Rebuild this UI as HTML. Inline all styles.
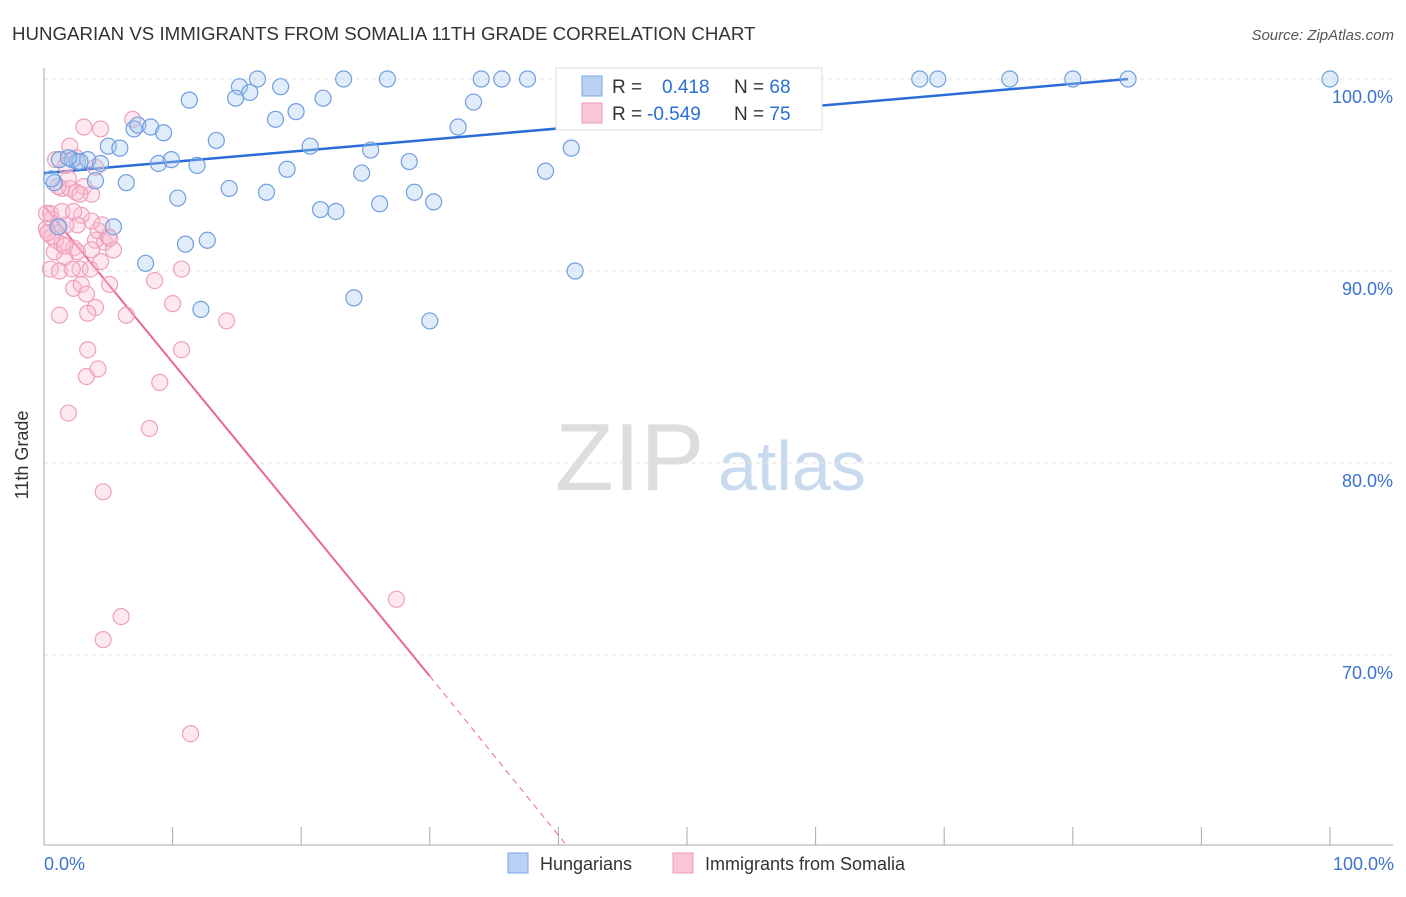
<!DOCTYPE html>
<html><head><meta charset="utf-8"><style>
body{margin:0;background:#fff;font-family:"Liberation Sans",sans-serif}
svg text{font-family:"Liberation Sans",sans-serif}
</style></head><body>
<svg width="1406" height="892">
<text x="12" y="40" font-size="18.7" fill="#333">HUNGARIAN VS IMMIGRANTS FROM SOMALIA 11TH GRADE CORRELATION CHART</text>
<text x="1394" y="40" font-size="15" fill="#555" text-anchor="end" font-style="italic">Source: ZipAtlas.com</text>
<text x="555" y="490" font-size="96" fill="#ddd" font-family="Liberation Serif">ZIP</text>
<text x="718" y="490" font-size="70" fill="#c9d9ee">atlas</text>
<g id="grid"></g><g id="axes"></g>
<line id="bl" stroke="#2a6dd9" stroke-width="2.5"/>
<line id="pl" stroke="#e8679a" stroke-width="2"/>
<line id="pld" stroke="#e8679a" stroke-width="1" stroke-dasharray="6,5"/>
<g id="pts"></g>
<text x="28" y="455" font-size="18" fill="#333" transform="rotate(-90 28 455)" text-anchor="middle">11th Grade</text>
<text x="44" y="870" font-size="18" fill="#3b73d0">0.0%</text>
<text x="1394" y="870" font-size="18" fill="#3b73d0" text-anchor="end">100.0%</text>
<g>
<rect x="556" y="68" width="266" height="62" fill="#fff" stroke="#ddd"/>
<rect x="582" y="76" width="20" height="20" fill="#b9d2f3" stroke="#7aa6e6"/>
<rect x="582" y="103" width="20" height="20" fill="#f8c6d6" stroke="#eb9ab6"/>
<text x="612" y="93" font-size="19" fill="#333">R = <tspan fill="#2a6dd9" x="662">0.418</tspan><tspan x="734" fill="#333">N = </tspan><tspan fill="#2a6dd9">68</tspan></text>
<text x="612" y="120" font-size="19" fill="#333">R = <tspan fill="#2a6dd9" x="647">-0.549</tspan><tspan x="734" fill="#333">N = </tspan><tspan fill="#2a6dd9">75</tspan></text>
</g>
<g>
<rect x="508" y="853" width="20" height="20" fill="#b9d2f3" stroke="#7aa6e6"/>
<text x="540" y="870" font-size="18" fill="#333">Hungarians</text>
<rect x="673" y="853" width="20" height="20" fill="#f8c6d6" stroke="#eb9ab6"/>
<text x="705" y="870" font-size="18" fill="#333">Immigrants from Somalia</text>
</g>
</svg>
<script>
const yTicks=[100,90,80,70];
const yTickLabels=["100.0%","90.0%","80.0%","70.0%"];
const xTicks=[0,10,20,30,40,50,60,70,80,90,100];
const blueX=[15.2,16.6,18.4,23.3,26.7,34,35.6,37.6,54,68.1,69.5,75.1,80,84.3,100,11.3,14.9,16,21.7,33.4,19.6,18,7,7.3,8.3,9.3,13.4,5,5.9,20.7,25.4,32.2,41,1.2,2.2,2.6,3.4,4.4,8.9,9.9,11.9,18.9,28.4,24.7,39,0.8,4,6.4,14.4,17.3,10.4,28.8,30.3,26.1,21.5,22.7,5.4,1.1,11.0,12.7,7.9,41.3,24.1,12.2,30,2.8,0.6,1.9];
const blueY=[99.6,100,99.6,100,100,100,100,100,100,100,100,100,100,100,100,98.9,99,99.3,99,98.8,98.3,97.9,97.4,97.6,97.5,97.2,96.8,96.5,96.4,96.5,96.3,97.5,96.4,95.8,95.8,95.7,95.8,95.6,95.6,95.8,95.5,95.3,95.7,95.1,95.2,94.6,94.7,94.6,94.3,94.1,93.8,94.1,93.6,93.5,93.2,93.1,92.3,92.3,91.4,91.6,90.4,90,88.6,88,87.4,95.7,94.8,95.9];
const pinkX=[6.9,4.4,3.1,2,0.9,2.5,1.7,4,1.4,2,3.1,3.7,2.5,0.5,0.6,1.2,0.3,0.9,1.4,2.3,2.6,1.6,0.5,1.2,2.8,3.6,2.3,2.9,5.1,4,3.4,1.2,6.4,4.7,5.4,4,4.2,5,3.7,2.9,2.6,1.7,3.4,3.3,4.2,9,10,10.7,8.6,10.7,14.2,8.2,1.9,4.6,6,4.6,11.4,27.4,0.2,0.6,0.8,1.6,0.2,2.2,4.4,3.3,3.7,1.1,1.9,2.8,4.5,0.3,1.4,2.3,5.1];
const pinkY=[97.9,97.4,97.5,96.5,95.8,95.9,95.5,95.4,94.3,94.3,94.4,94,94.1,93,92.7,92.3,92,91.6,91.4,91.2,91,90.7,90.1,90,90.1,90.1,89.1,89.3,89.3,88.1,87.8,87.7,87.7,91.5,91.1,91.6,92.1,91.8,92.6,92.9,92.4,92.4,85.9,84.5,84.9,84.2,88.3,90.1,89.5,85.9,87.4,81.8,82.6,78.5,72,70.8,65.9,72.9,92.2,91.8,91,91.3,93,90.1,90.5,88.8,91.1,94.4,94.8,94,92.4,92,93.1,93.1,91.7];
const blueTrend=[0,95.1,84.3,100];
const pinkTrend=[0,93.4,30,68.9,40.5,60.2];
function X(v){return 44+v*12.86}
function Y(v){return 79+(100-v)*19.2}
const NS="http://www.w3.org/2000/svg";
const grid=document.getElementById('grid'),axes=document.getElementById('axes'),pts=document.getElementById('pts');
yTicks.forEach((t,i)=>{
 const l=document.createElementNS(NS,'line');
 
 
 l.setAttribute('x1',44);l.setAttribute('x2',1393);l.setAttribute('y1',Y(t));l.setAttribute('y2',Y(t));
 l.setAttribute('stroke','#e2e2e2');l.setAttribute('stroke-dasharray','4,4');grid.appendChild(l);
 const tx=document.createElementNS(NS,'text');
 
 
 tx.setAttribute('x',1393);tx.setAttribute('y',Y(t)+24);tx.setAttribute('text-anchor','end');
 tx.setAttribute('font-size','18');tx.setAttribute('fill','#3b73d0');tx.textContent=yTickLabels[i];axes.appendChild(tx);
});
const ax=document.createElementNS(NS,'line');


ax.setAttribute('x1',44);ax.setAttribute('x2',1393);ax.setAttribute('y1',845);ax.setAttribute('y2',845);ax.setAttribute('stroke','#aaa');axes.appendChild(ax);
const ay=document.createElementNS(NS,'line');


ay.setAttribute('x1',44);ay.setAttribute('x2',44);ay.setAttribute('y1',68);ay.setAttribute('y2',845);ay.setAttribute('stroke','#aaa');axes.appendChild(ay);
xTicks.forEach(t=>{
 const l=document.createElementNS(NS,'line');
 
 
 l.setAttribute('x1',X(t));l.setAttribute('x2',X(t));l.setAttribute('y1',827);l.setAttribute('y2',845);l.setAttribute('stroke','#aaa');axes.appendChild(l);
});
function dot(x,y,fill,stroke,name){
 const c=document.createElementNS(NS,'circle');
 
 
 c.setAttribute('cx',X(x));c.setAttribute('cy',Y(y));c.setAttribute('r',8);
 c.setAttribute('fill',fill);c.setAttribute('stroke',stroke);c.setAttribute('stroke-width','1.2');pts.appendChild(c);
}
pinkX.forEach((x,i)=>dot(x,pinkY[i],'rgba(248,190,210,0.35)','#eea0bc','somalia-point'));
blueX.forEach((x,i)=>dot(x,blueY[i],'rgba(170,200,240,0.35)','#6f9fe0','hungarian-point'));
function setL(id,a,b,c,d){const l=document.getElementById(id);l.setAttribute('x1',X(a));l.setAttribute('y1',Y(b));l.setAttribute('x2',X(c));l.setAttribute('y2',Y(d));}
setL('bl',blueTrend[0],blueTrend[1],blueTrend[2],blueTrend[3]);
setL('pl',pinkTrend[0],pinkTrend[1],pinkTrend[2],pinkTrend[3]);
setL('pld',pinkTrend[2],pinkTrend[3],pinkTrend[4],pinkTrend[5]);
</script>
</body></html>
